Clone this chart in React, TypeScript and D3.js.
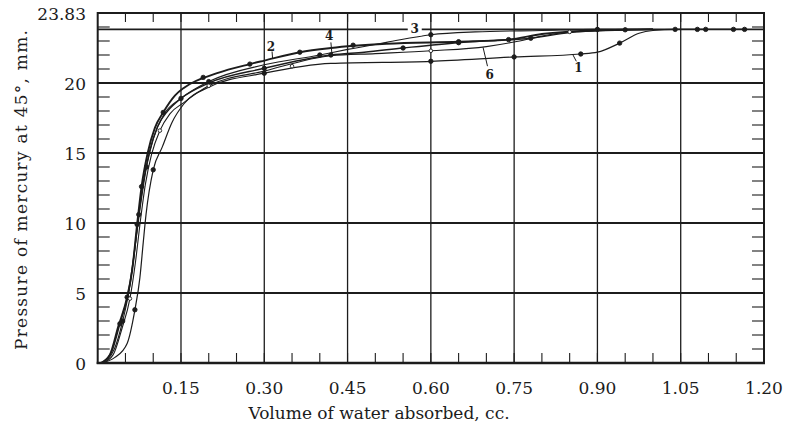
import React from "react";
import * as d3 from "d3";

type Pt = [number, number];

const W = 785;
const H = 422;

const xTicks = [0.15, 0.3, 0.45, 0.6, 0.75, 0.9, 1.05, 1.2];
const yTicks = [0, 5, 10, 15, 20];
const saturation = 23.83;

// curves (volume cc, pressure mm)
const curve1: Pt[] = [
  [0.006, 0], [0.031, 0.4], [0.053, 1.4], [0.067, 3.8], [0.076, 6.1], [0.082, 8.6],
  [0.087, 10.6], [0.1, 13.8], [0.116, 15.4], [0.134, 17.2], [0.155, 18.5], [0.2, 19.7],
  [0.3, 20.7], [0.42, 21.4], [0.6, 21.55], [0.75, 21.86], [0.87, 22.07], [0.9, 22.2],
  [0.94, 22.85], [0.975, 23.55], [1.0, 23.75], [1.04, 23.83], [1.17, 23.83],
];
const curve2: Pt[] = [
  [0.005, 0], [0.022, 0.6], [0.037, 2.6], [0.053, 4.7], [0.062, 6.6], [0.071, 9.9],
  [0.079, 12.6], [0.09, 15.0], [0.103, 16.8], [0.118, 17.9], [0.139, 19.1], [0.157, 19.7],
  [0.215, 20.7], [0.274, 21.35], [0.3, 21.6], [0.364, 22.2], [0.42, 22.5], [0.52, 22.8],
  [0.65, 22.95], [0.74, 23.1], [0.8, 23.5], [0.87, 23.72], [0.95, 23.8], [1.0, 23.83],
];
const curve3: Pt[] = [
  [0.008, 0], [0.03, 1.0], [0.045, 3.0], [0.058, 5.5], [0.068, 8.5], [0.078, 11.5],
  [0.088, 14.0], [0.1, 16.0], [0.12, 17.8], [0.15, 18.9], [0.2, 20.1], [0.3, 21.3],
  [0.4, 22.0], [0.45, 22.4], [0.52, 22.9], [0.6, 23.45], [0.68, 23.65], [0.8, 23.75],
  [0.9, 23.83], [1.0, 23.83],
];
const curve4: Pt[] = [
  [0.007, 0], [0.025, 0.8], [0.04, 2.8], [0.055, 5.0], [0.065, 7.6], [0.074, 10.6],
  [0.083, 13.1], [0.094, 15.2], [0.108, 16.9], [0.126, 18.0], [0.15, 18.9], [0.2, 20.0],
  [0.3, 21.05], [0.42, 22.0], [0.48, 22.2], [0.55, 22.5], [0.65, 22.88], [0.72, 23.05],
  [0.78, 23.2], [0.85, 23.6], [0.95, 23.8], [1.0, 23.83],
];
const curve6: Pt[] = [
  [0.009, 0], [0.028, 0.6], [0.044, 2.5], [0.058, 4.6], [0.068, 7.2], [0.077, 10.2],
  [0.086, 12.8], [0.097, 14.9], [0.112, 16.6], [0.13, 17.8], [0.155, 18.6], [0.2, 19.8],
  [0.3, 20.85], [0.42, 21.95], [0.5, 22.1], [0.6, 22.3], [0.7, 22.6], [0.75, 22.93],
  [0.8, 23.35], [0.85, 23.65], [0.95, 23.8], [1.0, 23.83],
];

// observed points drawn on the curves
const dots1: Pt[] = [[0.067, 3.8], [0.1, 13.8], [0.3, 20.7], [0.6, 21.55], [0.75, 21.86], [0.87, 22.07], [0.94, 22.85], [1.04, 23.83], [1.08, 23.83], [1.095, 23.83], [1.145, 23.83], [1.165, 23.83]];
const dots2: Pt[] = [[0.053, 4.7], [0.071, 9.9], [0.079, 12.6], [0.118, 17.9], [0.19, 20.4], [0.274, 21.35], [0.364, 22.2], [0.46, 22.7], [0.65, 22.95], [0.74, 23.1]];
const dots3: Pt[] = [[0.045, 3.0], [0.088, 14.0], [0.2, 20.1], [0.4, 22.0], [0.6, 23.45], [0.9, 23.83]];
const dots4: Pt[] = [[0.04, 2.8], [0.074, 10.6], [0.15, 18.9], [0.3, 21.05], [0.42, 22.0], [0.55, 22.5], [0.65, 22.88], [0.78, 23.2], [0.95, 23.8]];
const dots6: Pt[] = [[0.058, 4.6], [0.112, 16.6], [0.2, 19.8], [0.35, 21.2], [0.6, 22.3], [0.85, 23.65]];

const curves = [
  { id: "1", pts: curve1, dots: dots1, w: 1.2, open: false },
  { id: "2", pts: curve2, dots: dots2, w: 1.9, open: false },
  { id: "3", pts: curve3, dots: dots3, w: 1.1, open: false },
  { id: "4", pts: curve4, dots: dots4, w: 1.4, open: false },
  { id: "6", pts: curve6, dots: dots6, w: 1.1, open: true },
];

// curve numbers: text position and leader end
const labels: { t: string; at: Pt; from?: Pt; to?: Pt }[] = [
  { t: "1", at: [0.866, 21.05], from: [0.862, 21.55], to: [0.856, 22.0] },
  { t: "2", at: [0.312, 22.6], from: [0.314, 22.25], to: [0.315, 21.75] },
  { t: "3", at: [0.571, 23.83] },
  { t: "4", at: [0.417, 23.35], from: [0.42, 22.9], to: [0.422, 22.0] },
  { t: "6", at: [0.706, 20.55], from: [0.702, 21.2], to: [0.694, 22.55] },
];

const L = 97.7, R = 764, T = 13, B = 363;
const x = d3.scaleLinear().domain([0, 1.2]).range([L, R]);
const y = d3.scaleLinear().domain([0, 25]).range([B, T]);

const line = d3
  .line<Pt>()
  .x((d) => x(d[0]))
  .y((d) => y(d[1]))
  .curve(d3.curveMonotoneX);

const ink = "#1c1c1c";
const font = "'DejaVu Serif', serif";

export default function App() {
  const xMinor = d3.range(1, 24).map((i) => i * 0.05);
  const yMinor = d3.range(1, 25);
  return (
    <svg
      width={W}
      height={H}
      style={{ position: "absolute", left: 0, top: 0, background: "#fff" }}
    >
      {/* grid */}
      {xTicks.slice(0, -1).map((v) => (
        <line key={"gx" + v} x1={x(v)} x2={x(v)} y1={T} y2={B} stroke={ink} strokeWidth={1.3} />
      ))}
      {yTicks.slice(1).map((v) => (
        <line key={"gy" + v} x1={L} x2={R} y1={y(v)} y2={y(v)} stroke={ink} strokeWidth={2} />
      ))}
      <line x1={L} x2={R} y1={y(saturation)} y2={y(saturation)} stroke={ink} strokeWidth={1.6} />

      {/* minor ticks */}
      {xMinor.map((v) => (
        <g key={"mx" + v}>
          <line x1={x(v)} x2={x(v)} y1={B} y2={B - 10} stroke={ink} strokeWidth={1.1} />
          <line x1={x(v)} x2={x(v)} y1={T} y2={T + 9} stroke={ink} strokeWidth={1.1} />
        </g>
      ))}
      {yMinor.map((v) => (
        <g key={"my" + v}>
          <line x1={L} x2={L + 12} y1={y(v)} y2={y(v)} stroke={ink} strokeWidth={1.1} />
          <line x1={R} x2={R - 12} y1={y(v)} y2={y(v)} stroke={ink} strokeWidth={1.1} />
        </g>
      ))}

      {/* curves */}
      {curves.map((c) => (
        <path key={"c" + c.id} d={line(c.pts) || ""} fill="none" stroke={ink} strokeWidth={c.w} />
      ))}
      {curves.map((c) =>
        c.dots.map((d, i) => (
          <circle
            key={"d" + c.id + i}
            cx={x(d[0])}
            cy={y(d[1])}
            r={c.open ? 1.8 : 2.2}
            fill={c.open ? "#fff" : ink}
            stroke={ink}
            strokeWidth={0.9}
          />
        ))
      )}

      {/* curve numbers */}
      {labels.map((l) => (
        <g key={"l" + l.t}>
          {l.from && l.to && (
            <line x1={x(l.from[0])} y1={y(l.from[1])} x2={x(l.to[0])} y2={y(l.to[1])} stroke={ink} strokeWidth={1} />
          )}
          {l.t === "3" && <rect x={x(l.at[0]) - 7} y={y(l.at[1]) - 6} width={14} height={12} fill="#fff" />}
          <text
            x={x(l.at[0])}
            y={y(l.at[1])}
            textAnchor="middle"
            dominantBaseline="central"
            fontFamily={font}
            fontSize={12}
            fontWeight="bold"
            fill={ink}
          >
            {l.t}
          </text>
        </g>
      ))}

      {/* frame */}
      <rect x={L} y={T} width={R - L} height={B - T} fill="none" stroke={ink} strokeWidth={2} />
      <line x1={L - 1} x2={R + 1} y1={B} y2={B} stroke={ink} strokeWidth={2.6} />

      {/* tick labels */}
      {xTicks.map((v) => (
        <text key={"tx" + v} x={x(v)} y={388} textAnchor="middle" dominantBaseline="central" fontFamily={font} fontSize={17} fill={ink}>
          {v.toFixed(2)}
        </text>
      ))}
      {yTicks.map((v) => (
        <text key={"ty" + v} x={86} y={y(v) + 1} textAnchor="end" dominantBaseline="central" fontFamily={font} fontSize={17} fill={ink}>
          {v}
        </text>
      ))}
      <text x={86} y={14} textAnchor="end" dominantBaseline="central" fontFamily={font} fontSize={17} fill={ink}>
        {saturation.toFixed(2)}
      </text>

      {/* axis titles */}
      <text x={379} y={413} textAnchor="middle" dominantBaseline="central" fontFamily={font} fontSize={17} fill={ink}>
        Volume of water absorbed, cc.
      </text>
      <text
        transform={`translate(21,190) rotate(-90)`}
        textAnchor="middle"
        dominantBaseline="central"
        fontFamily={font}
        fontSize={17}
        textLength={320}
        lengthAdjust="spacing"
        fill={ink}
      >
        Pressure of mercury at 45°, mm.
      </text>
    </svg>
  );
}
